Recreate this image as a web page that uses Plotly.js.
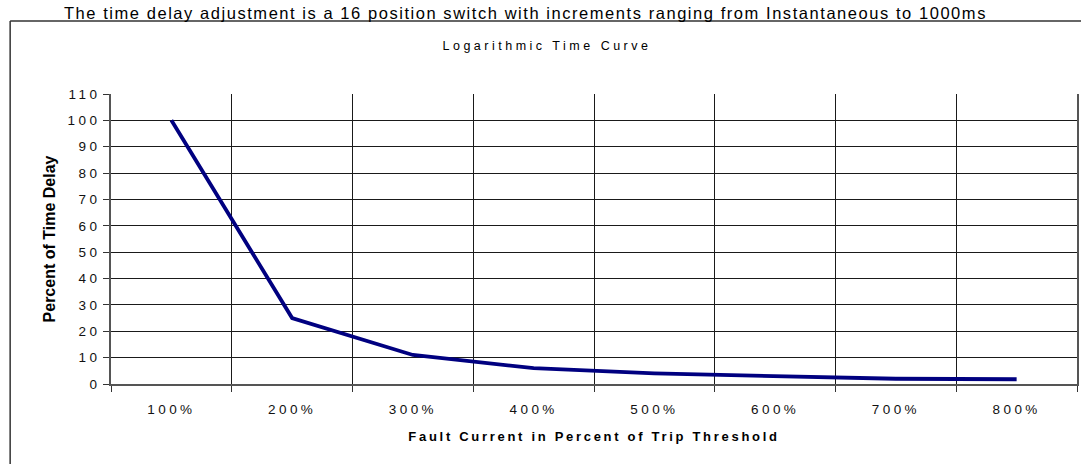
<!DOCTYPE html>
<html>
<head>
<meta charset="utf-8">
<script src="https://cdn.plot.ly/plotly-3.0.1.min.js"></script>
<style>
html,body{margin:0;padding:0;background:#fff;}
#chart .xtick text{letter-spacing:3.4px;}
#chart .ytick text{letter-spacing:3.4px;}
#chart .g-xtitle text{letter-spacing:2.7px;}
#chart .annotation[data-index="0"] text{letter-spacing:1.55px;}
#chart .annotation[data-index="1"] text{letter-spacing:3.5px;}
</style>
</head>
<body>
<div id="chart" style="width:1081px;height:464px;"></div>
<script>
const categories = ["100%", "200%", "300%", "400%", "500%", "600%", "700%", "800%"];
const percentDelay = [100, 25, 11, 6, 4, 3, 2, 1.8];
const yTicks = [0, 10, 20, 30, 40, 50, 60, 70, 80, 90, 100, 110];

const trace = {
  x: categories,
  y: percentDelay,
  type: 'scatter',
  mode: 'lines',
  line: {color: '#000080', width: 3.8},
  hoverinfo: 'x+y'
};

const layout = {
  width: 1081,
  height: 464,
  margin: {l: 111, r: 4, t: 94, b: 80},
  paper_bgcolor: '#ffffff',
  plot_bgcolor: '#ffffff',
  showlegend: false,
  font: {family: 'Liberation Sans, Arial, sans-serif', color: '#111'},
  xaxis: {
    type: 'category',
    range: [-0.5, 7.5],
    tickson: 'boundaries',
    ticks: 'outside',
    ticklen: 6,
    tickcolor: '#333',
    showgrid: true,
    gridcolor: '#1a1a1a',
    gridwidth: 1,
    showline: true,
    linecolor: '#555',
    linewidth: 2,
    tickfont: {family: 'Liberation Sans, Arial, sans-serif', size: 13.5, color: '#111'},
    ticklabelstandoff: 12,
    title: {text: '<b>Fault Current in Percent of Trip Threshold</b>', font: {family: 'Liberation Sans, Arial, sans-serif', size: 13, color: '#000'}, standoff: 16},
    fixedrange: true
  },
  yaxis: {
    range: [0, 110],
    tickvals: yTicks,
    ticktext: yTicks.map(String),
    ticks: 'outside',
    ticklen: 6,
    tickcolor: '#333',
    showgrid: true,
    gridcolor: '#1a1a1a',
    gridwidth: 1,
    zeroline: false,
    showline: true,
    mirror: true,
    linecolor: '#555',
    linewidth: 2,
    tickfont: {family: 'Liberation Sans, Arial, sans-serif', size: 13.5, color: '#111'},
    title: {text: '<b>Percent of Time Delay</b>', font: {family: 'Liberation Sans, Arial, sans-serif', size: 16, color: '#000'}, standoff: 18},
    fixedrange: true
  },
  annotations: [
    {
      text: 'The time delay adjustment is a 16 position switch with increments ranging from Instantaneous to 1000ms',
      xref: 'paper', yref: 'paper', x: 0.429, y: 1.281,
      xanchor: 'center', yanchor: 'middle', showarrow: false,
      font: {family: 'Liberation Sans, Arial, sans-serif', size: 16.5, color: '#000'}
    },
    {
      text: 'Logarithmic Time Curve',
      xref: 'paper', yref: 'paper', x: 0.451, y: 1.166,
      xanchor: 'center', yanchor: 'middle', showarrow: false,
      font: {family: 'Liberation Sans, Arial, sans-serif', size: 12.5, color: '#000'}
    }
  ],
  shapes: [
    {type: 'line', xref: 'paper', yref: 'paper', x0: -0.1044, x1: 1.01, y0: 1.2517, y1: 1.2517, line: {color: '#333', width: 1.5}},
    {type: 'line', xref: 'paper', yref: 'paper', x0: -0.1044, x1: -0.1044, y0: 1.2517, y1: -0.3, line: {color: '#333', width: 1.5}}
  ]
};

Plotly.newPlot('chart', [trace], layout, {displayModeBar: false, staticPlot: true});
</script>
</body>
</html>
